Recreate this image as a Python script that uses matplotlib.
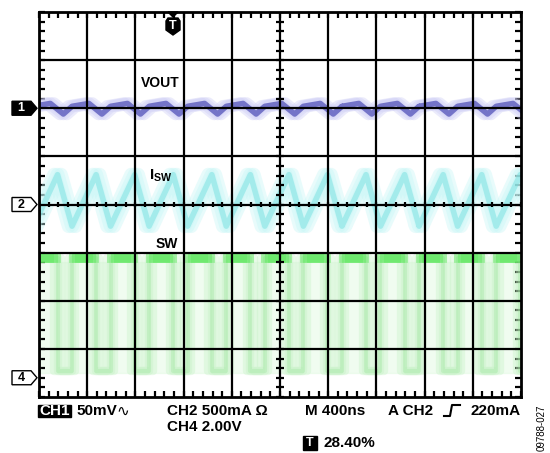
import numpy as np
import matplotlib
matplotlib.use("Agg")
import matplotlib.pyplot as plt
from matplotlib.patches import Polygon, Rectangle

plt.rcParams['font.family'] = ['Liberation Sans', 'DejaVu Sans']
plt.rcParams['mathtext.fontset'] = 'custom'
plt.rcParams['mathtext.bf'] = 'Liberation Sans:bold'
plt.rcParams['mathtext.rm'] = 'Liberation Sans:bold'

# screen is 10 x 8 divisions, y = 0 on the centre graticule line
period_div = 0.8        # one switching cycle (320 ns at 400 ns/div)
first_edge_div = 0.685  # first SW rising edge on screen
n_cycles = 14

# one switching cycle of each trace, phase measured from the SW rising edge
vout_phase = [0.0, 0.35, 0.62, 0.8]
vout_level = [2.04, 2.1, 1.88, 2.04]
isw_phase = [0.0, 0.5, 0.8]
isw_level = [-0.45, 0.62, -0.45]
sw_phase = [0.0, 0.0, 0.5, 0.5, 0.8]
sw_level = [-3.47, -1.12, -1.12, -3.47, -3.47]

# channel ground markers (divisions)
ch_markers = {'1': 2.0, '2': 0.0, '4': -3.6}
trigger_pos = 2.78


def build(phase, level):
    xs, ys = [], []
    for k in range(-1, n_cycles):
        t0 = first_edge_div + k * period_div
        xs += [t0 + p for p in phase]
        ys += level
    return np.array(xs), np.array(ys)


W, H = 550, 453
fig = plt.figure(figsize=(W / 100, H / 100), dpi=100)
L, R, T, B = 39, 521, 12, 397
ax = fig.add_axes([L / W, 1 - B / H, (R - L) / W, (B - T) / H])
ax.set_xlim(0, 10)
ax.set_ylim(-4, 4)


def px(x, y):
    return (x / W, 1 - y / H)


# --- traces (persistence look: a few jittered, translucent copies) ---
jitter = [-0.07, 0.0, 0.07]
x, y = build(sw_phase, sw_level)
ax.fill_between([0, 10], -3.5, -1.2, color='#e6fae6', alpha=0.6, zorder=1)
for dx in jitter:
    ax.plot(x + dx, y, color='#c4f2c4', lw=6, alpha=0.35, zorder=2,
            solid_capstyle='butt')
ax.plot(x, y, color='#9ee69e', lw=3, alpha=0.35, zorder=3)
high = np.ma.masked_where(y < max(sw_level), y)
for dx in jitter:
    ax.plot(x + dx, high, color='#5ee85e', lw=7, alpha=0.45, zorder=3,
            solid_capstyle='butt')

x, y = build(isw_phase, isw_level)
for dx in jitter:
    ax.plot(x + dx, y, color='#c6f6f6', lw=10, alpha=0.4, zorder=2)
ax.plot(x, y, color='#6adede', lw=4, alpha=0.45, zorder=3)

x, y = build(vout_phase, vout_level)
for dx in jitter:
    ax.plot(x + dx, y, color='#cfcff6', lw=9, alpha=0.4, zorder=2)
ax.plot(x, y, color='#4a4ab4', lw=4, alpha=0.7, zorder=3)

# --- graticule ---
for v in range(1, 10):
    ax.axvline(v, color='black', lw=1.6, zorder=5)
for h in range(-3, 4):
    ax.axhline(h, color='black', lw=1.6, zorder=5)
minor_x = np.arange(0, 10.01, 0.2)
minor_y = np.arange(-4, 4.01, 0.2)
ax.vlines(minor_x, -0.06, 0.06, color='black', lw=1.6, zorder=5)
ax.hlines(minor_y, 4.92, 5.08, color='black', lw=1.6, zorder=5)
ax.set_xticks(minor_x)
ax.set_yticks(minor_y)
ax.tick_params(direction='in', length=4, width=1.6, top=True, right=True,
               labelbottom=False, labelleft=False)
for s in ax.spines.values():
    s.set_linewidth(2)
    s.set_zorder(6)

# --- trace labels ---
ax.text(2.52, 2.52, 'VOUT', ha='center', va='center', fontsize=10,
        fontweight='bold', zorder=7)
ax.text(2.52, 0.6, r'$\mathbf{I_{SW}}$', ha='center', va='center',
        fontsize=11, zorder=7)
ax.text(2.66, -0.83, 'SW', ha='center', va='center', fontsize=10,
        fontweight='bold', zorder=7)

# --- trigger marker on top edge ---
tx = L + trigger_pos * (R - L) / 10
fig.patches.append(Polygon([px(tx - 5, 12), px(tx + 5, 12), px(tx, 17)],
                           closed=True, color='black', transform=fig.transFigure,
                           zorder=8))
shield = [px(tx - 7, 21), px(tx - 5, 18), px(tx + 5, 18), px(tx + 7, 21),
          px(tx + 7, 30), px(tx, 35), px(tx - 7, 30)]
fig.patches.append(Polygon(shield, closed=True, color='black',
                           transform=fig.transFigure, zorder=8))
fig.text(*px(tx, 26), 'T', color='white', fontsize=9, fontweight='bold',
         ha='center', va='center', zorder=9)

# --- channel markers on the left ---
for name, lev in ch_markers.items():
    yp = B - (lev + 4) * (B - T) / 8
    pts = [px(12, yp - 7), px(31, yp - 7), px(37, yp), px(31, yp + 7),
           px(12, yp + 7)]
    filled = name == '1'
    fig.patches.append(Polygon(pts, closed=True, facecolor='black' if filled else 'white',
                               edgecolor='black', lw=1, transform=fig.transFigure))
    fig.text(*px(21, yp), name, color='white' if filled else 'black',
             fontsize=9, fontweight='bold', ha='center', va='center')

# --- readout ---
fs = 11
fig.patches.append(Rectangle(px(38, 417), 33 / W, 12 / H, color='black',
                             transform=fig.transFigure))
fig.text(*px(54.5, 411), 'CH1', color='white', fontsize=fs, fontweight='bold',
         ha='center', va='center')
fig.text(*px(76, 411), '50mV', fontsize=fs, fontweight='bold', va='center')
fig.text(*px(116, 411), '\u223f', fontsize=fs, va='center',
         family=['DejaVu Sans'])
fig.text(*px(167, 411), 'CH2 500mA \u03a9', fontsize=fs, fontweight='bold',
         va='center')
fig.text(*px(167, 427), 'CH4 2.00V', fontsize=fs, fontweight='bold',
         va='center')
fig.text(*px(305, 411), 'M 400ns', fontsize=fs, fontweight='bold', va='center')
fig.text(*px(388, 411), 'A CH2', fontsize=fs, fontweight='bold', va='center')
sym = [px(444, 416), px(450, 416), px(452, 405), px(460, 405)]
fig.lines.append(plt.Line2D([p[0] for p in sym], [p[1] for p in sym],
                            color='black', lw=1.5, transform=fig.transFigure))
fig.text(*px(521, 411), '220mA', fontsize=fs, fontweight='bold', va='center',
         ha='right')
fig.patches.append(Rectangle(px(303, 450), 14 / W, 14 / H, color='black',
                             transform=fig.transFigure))
fig.text(*px(310, 443), 'T', color='white', fontsize=9, fontweight='bold',
         ha='center', va='center')
fig.text(*px(324, 443), '28.40%', fontsize=fs, fontweight='bold', va='center')
fig.text(*px(542, 428), '09788-027', fontsize=7, rotation=90,
         ha='center', va='center')

fig.savefig('out.png', dpi=100)
